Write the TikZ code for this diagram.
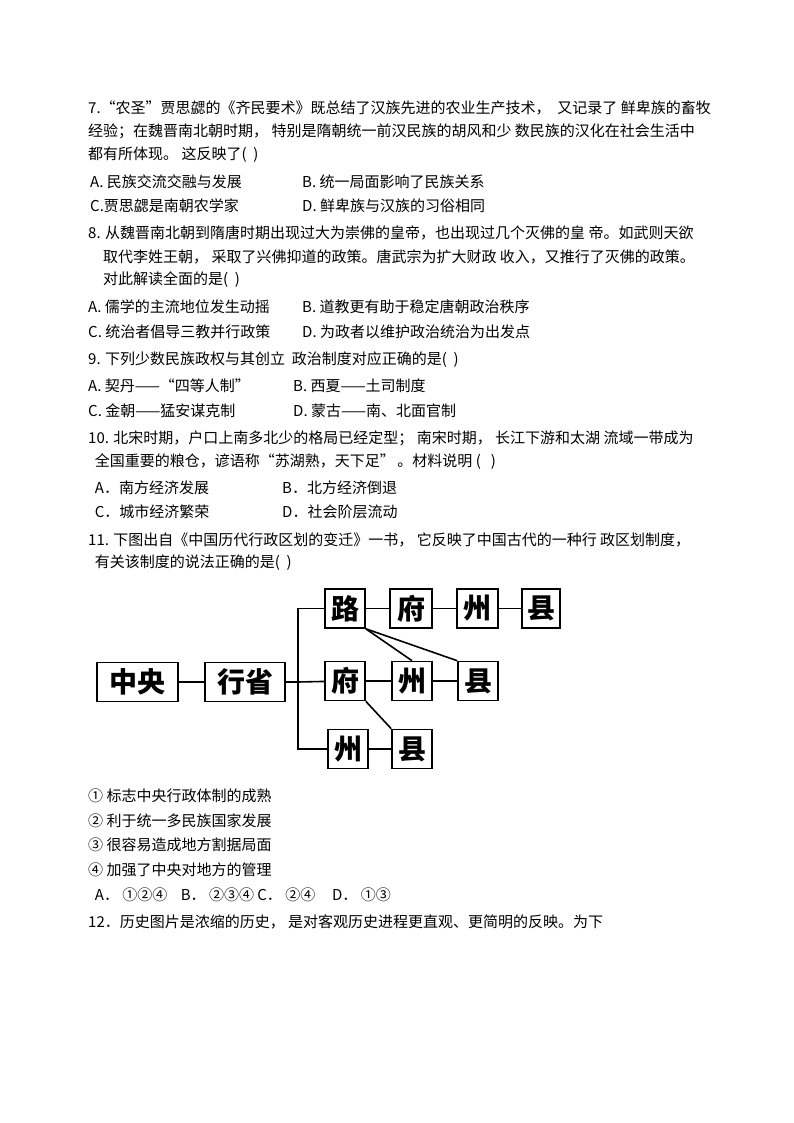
\documentclass[tikz,border=0pt]{standalone}
\usepackage{fontspec}
\setmainfont{Noto Sans CJK SC}
\begin{document}
\begin{tikzpicture}[x=1pt,y=-1pt,
 t/.style={anchor=west,inner sep=0pt,font=\fontsize{15}{15}\selectfont},
 bx/.style={draw,line width=1.6pt,minimum height=39pt,inner sep=0pt,font=\fontsize{28}{28}\selectfont\bfseries},
 ln/.style={line width=1.6pt}]
\useasboundingbox (0,0) rectangle (794,1123);
\node[t] (l1) at (88,108) {7.“农圣”贾思勰的《齐民要术》既总结了汉族先进的农业生产技术，\ \ 又记录了\ 鲜卑族的畜牧};
\node[t] (l2) at (88,131) {经验；在魏晋南北朝时期，\ 特别是隋朝统一前汉民族的胡风和少\ 数民族的汉化在社会生活中};
\node[t] (l3) at (88,155) {都有所体现。\ 这反映了(\ \ )};
\node[t] (l4) at (90,182) {A. 民族交流交融与发展};
\node[t] (l5) at (302,182) {B. 统一局面影响了民族关系};
\node[t] (l6) at (90,206) {C.贾思勰是南朝农学家};
\node[t] (l7) at (302,206) {D. 鲜卑族与汉族的习俗相同};
\node[t] (l8) at (88,233) {8. 从魏晋南北朝到隋唐时期出现过大为崇佛的皇帝，也出现过几个灭佛的皇\ 帝。如武则天欲};
\node[t] (l9) at (103,257) {取代李姓王朝，\ 采取了兴佛抑道的政策。唐武宗为扩大财政\ 收入，又推行了灭佛的政策。};
\node[t] (l10) at (103,280) {对此解读全面的是(\ \ )};
\node[t] (l11) at (88,307) {A. 儒学的主流地位发生动摇};
\node[t] (l12) at (302,307) {B. 道教更有助于稳定唐朝政治秩序};
\node[t] (l13) at (88,332) {C. 统治者倡导三教并行政策};
\node[t] (l14) at (302,332) {D. 为政者以维护政治统治为出发点};
\node[t] (l15) at (88,360) {9. 下列少数民族政权与其创立\ \ 政治制度对应正确的是(\ \ )};
\node[t] (l16) at (88,386) {A. 契丹——“四等人制”};
\node[t] (l17) at (293,386) {B. 西夏——土司制度};
\node[t] (l18) at (88,411) {C. 金朝——猛安谋克制};
\node[t] (l19) at (293,411) {D. 蒙古——南、北面官制};
\node[t] (l20) at (88,438) {10. 北宋时期，户口上南多北少的格局已经定型；\ 南宋时期，\ 长江下游和太湖\ 流域一带成为};
\node[t] (l21) at (88,462) {\ \ 全国重要的粮仓，谚语称“苏湖熟，天下足”\,。材料说明\ (\ \ \ )};
\node[t] (l22) at (88,488) {\ \ A．南方经济发展};
\node[t] (l23) at (282,488) {B．北方经济倒退};
\node[t] (l24) at (88,512) {\ \ C．城市经济繁荣};
\node[t] (l25) at (282,512) {D．社会阶层流动};
\node[t] (l26) at (88,540) {11. 下图出自《中国历代行政区划的变迁》一书，\ 它反映了中国古代的一种行\ 政区划制度，};
\node[t] (l27) at (88,563) {\ \ 有关该制度的说法正确的是(\ \ )};
% diagram
\node[bx,minimum width=81pt] (zy) at (137.5,682) {中央};
\node[bx,minimum width=80pt] (xs) at (245,682) {行省};
\node[bx,minimum width=40pt] (lu) at (345,608.5) {路};
\node[bx,minimum width=42pt] (f1) at (411,608.5) {府};
\node[bx,minimum width=41pt] (z1) at (477.5,608.5) {州};
\node[bx,minimum width=38pt] (x1) at (541,608.5) {县};
\node[bx,minimum width=40pt] (f2) at (345,681) {府};
\node[bx,minimum width=40pt] (z2) at (412,681) {州};
\node[bx,minimum width=40pt] (x2) at (478,681) {县};
\node[bx,minimum width=40pt] (z3) at (348,749) {州};
\node[bx,minimum width=40pt] (x3) at (412,749) {县};
\coordinate (vt) at (298,608.5);
\coordinate (vb) at (298,749);
\coordinate (vm) at (298,682);
\draw[ln] (zy) -- (xs);
\draw[ln] (xs) -- (vm);
\draw[ln] (lu) -- (vt) -- (vb) -- (z3);
\draw[ln] (vm) -- (f2);
\draw[ln] (lu) -- (f1); \draw[ln] (f1) -- (z1); \draw[ln] (z1) -- (x1);
\draw[ln] (f2) -- (z2); \draw[ln] (z2) -- (x2); \draw[ln] (z3) -- (x3);
\draw[ln] (lu.south east) -- (z2.north);
\draw[ln] (lu.south east) -- (x2.north west);
\draw[ln] (f2.south east) -- (x3.north west);
% after diagram
\node[t] (m1) at (88,796) {① 标志中央行政体制的成熟};
\node[t] (m2) at (88,821) {② 利于统一多民族国家发展};
\node[t] (m3) at (88,845) {③ 很容易造成地方割据局面};
\node[t] (m4) at (88,870) {④ 加强了中央对地方的管理};
\node[t] (m5) at (88,895) {\ \ A．\ ①②④\ \ \ \ B．\ ②③④\ C．\ ②④\ \ \ \ \ D．\ ①③};
\node[t] (m6) at (88,922) {12．历史图片是浓缩的历史，\ 是对客观历史进程更直观、更简明的反映。为下};
\end{tikzpicture}
\end{document}
